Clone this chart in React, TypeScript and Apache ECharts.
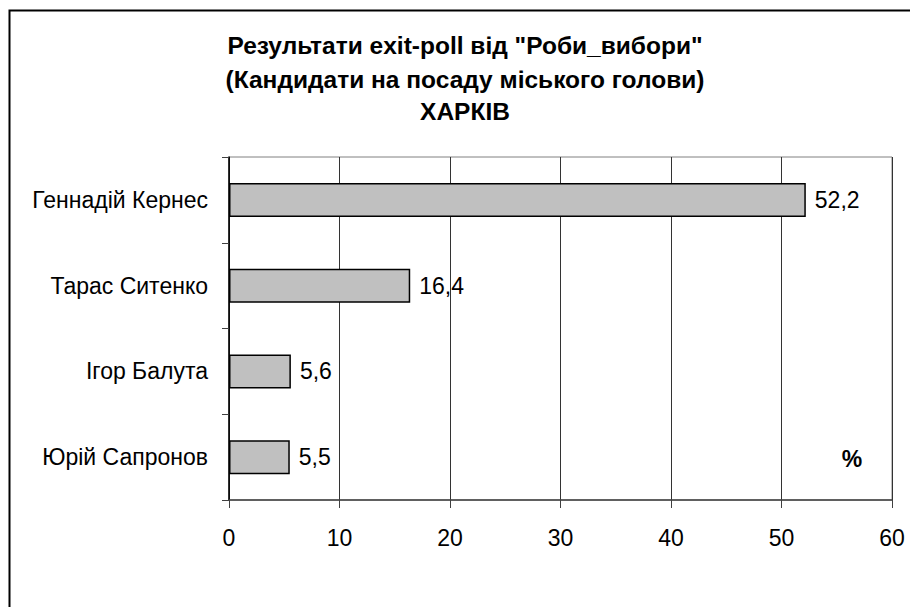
import React, { useEffect, useRef } from "react";
import * as echarts from "echarts";

const titleLines = [
  'Результати exit-poll від "Роби_вибори"',
  "(Кандидати на посаду міського голови)",
  "ХАРКІВ",
];
const titleCenters = [45, 79, 111];
const categories = ["Геннадій Кернес", "Тарас Ситенко", "Ігор Балута", "Юрій Сапронов"];
const values = [52.2, 16.4, 5.6, 5.5];
const xTicks = { min: 0, max: 60, interval: 10 };
const unitLabel = "%";

const FONT = "'Liberation Sans', Arial, sans-serif";
const TITLE_SIZE = 24.5;

export default function App() {
  const ref = useRef<HTMLDivElement>(null);
  useEffect(() => {
    if (!ref.current) return;
    const chart = echarts.init(ref.current, null, { renderer: "svg" });
    chart.setOption({
      animation: false,
      backgroundColor: "#ffffff",
      title: titleLines.map((t, i) => ({
        text: t,
        left: 465,
        textAlign: "center",
        top: titleCenters[i] - TITLE_SIZE / 2,
        padding: 0,
        textStyle: {
          fontFamily: FONT,
          fontSize: TITLE_SIZE,
          fontWeight: "bold",
          color: "#000",
          lineHeight: TITLE_SIZE,
        },
      })),
      grid: {
        left: 229,
        right: 18,
        top: 157,
        bottom: 107,
        show: true,
        borderColor: "#808080",
        borderWidth: 1,
        backgroundColor: "transparent",
      },
      xAxis: {
        type: "value",
        min: xTicks.min,
        max: xTicks.max,
        interval: xTicks.interval,
        axisLine: { show: true, lineStyle: { color: "#404040", width: 1.5 } },
        axisTick: { show: true, length: 8, lineStyle: { color: "#404040" } },
        axisLabel: {
          fontFamily: FONT,
          fontSize: 23,
          color: "#000",
          margin: 26,
        },
        splitLine: { show: true, lineStyle: { color: "#333", width: 1 } },
      },
      yAxis: {
        type: "category",
        inverse: true,
        data: categories,
        axisLine: { show: true, lineStyle: { color: "#000", width: 1.5 } },
        axisTick: { show: true, length: 7, lineStyle: { color: "#404040" } },
        axisLabel: {
          fontFamily: FONT,
          fontSize: 23,
          color: "#000",
          margin: 21,
        },
        splitLine: { show: false },
      },
      series: [
        {
          type: "bar",
          data: values,
          barWidth: 34,
          itemStyle: { color: "#c0c0c0", borderColor: "#000", borderWidth: 1.5 },
          label: {
            show: true,
            position: "right",
            distance: 9,
            fontFamily: FONT,
            fontSize: 23,
            color: "#000",
            formatter: (p: any) => String(p.value).replace(".", ","),
          },
        },
      ],
      graphic: [
        {
          type: "rect",
          shape: { x: 9.5, y: 10.5, width: 1000, height: 1000 },
          style: { fill: "none", stroke: "#000", lineWidth: 2 },
          silent: true,
        },
        {
          type: "text",
          x: 852,
          y: 459,
          style: {
            text: unitLabel,
            fontFamily: FONT,
            fontSize: 23,
            fontWeight: "bold",
            fill: "#000",
            align: "center",
            verticalAlign: "middle",
          },
        },
      ],
    });
    return () => chart.dispose();
  }, []);
  return (
    <div
      ref={ref}
      style={{ position: "absolute", left: 0, top: 0, width: 910, height: 607 }}
    />
  );
}
